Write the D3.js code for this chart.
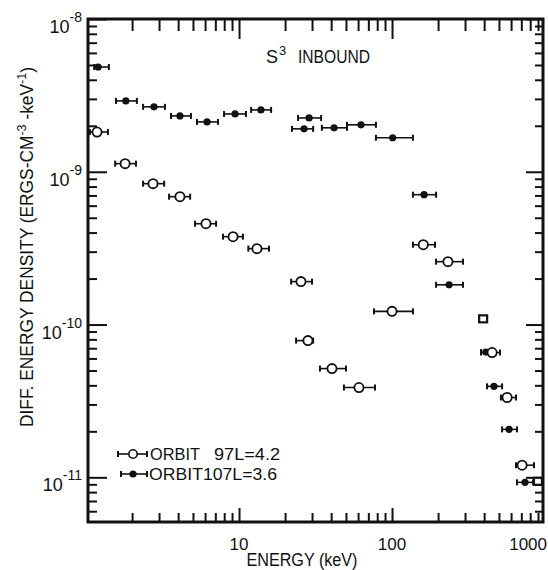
<!DOCTYPE html>
<html><head><meta charset="utf-8">
<script src="https://cdn.jsdelivr.net/npm/d3@7"></script>
<style>body{margin:0;background:#fff}svg{display:block}text{font-family:"Liberation Sans",Arial,sans-serif;fill:#111}</style>
</head><body><svg id="c" width="548" height="570"></svg>
<script>
// ---- data ----
// ORBIT 107, L=3.6 (filled)
const orbit107Energy = [1.20, 1.82, 2.78, 4.11, 6.18, 9.42, 13.9, 28.7, 26.6, 41.8, 62.7, 101, 162, 236, 411, 464, 582, 740];
const orbit107Value  = [4.85e-9, 2.91e-9, 2.66e-9, 2.32e-9, 2.12e-9, 2.39e-9, 2.54e-9, 2.25e-9, 1.91e-9, 1.94e-9, 2.03e-9, 1.67e-9, 7.08e-10, 1.82e-10, 6.6e-11, 3.94e-11, 2.06e-11, 9.27e-12];
const orbit107Low    = [1.13, 1.57, 2.36, 3.59, 5.31, 7.98, 12.0, 24.3, 22.2, 34.8, 50.8, 78.5, 137, 194, 382, 418, 524, 656];
const orbit107High   = [1.41, 2.15, 3.28, 4.85, 7.29, 11.1, 16.2, 34.4, 30.5, 50.8, 78.5, 137, 194, 291, 440, 524, 656, 836];
// ORBIT 97, L=4.2 (open)
const orbit97Energy = [1.18, 1.80, 2.74, 4.11, 6.08, 9.14, 13.1, 25.4, 28.2, 40.5, 60.8, 100, 160, 232, 451, 565, 708];
const orbit97Value  = [1.82e-9, 1.13e-9, 8.36e-10, 6.87e-10, 4.57e-10, 3.76e-10, 3.14e-10, 1.91e-10, 7.85e-11, 5.15e-11, 3.87e-11, 1.22e-10, 3.33e-10, 2.58e-10, 6.56e-11, 3.33e-11, 1.20e-11];
const orbit97Low    = [1.06, 1.55, 2.36, 3.49, 5.16, 7.86, 11.5, 21.9, 23.6, 33.8, 48.5, 76.2, 137, 194, 382, 515, 646];
const orbit97High   = [1.39, 2.12, 3.24, 4.79, 7.08, 10.6, 15.7, 30.0, 30.5, 50.0, 77.4, 137, 191, 291, 508, 646, 847];
// open squares (no bars)
const squareEnergy = [394, 899];
const squareValue  = [1.09e-10, 9.42e-12];
// tick labels
const xTickValues = [10, 100, 1000];
const xTickLabels = ["10", "100", "1000"];
const yTickValues = [1e-8, 1e-9, 1e-10, 1e-11];
const yTickExponents = ["-8", "-9", "-10", "-11"];
const titleMain = "S", titleSup = "3", titleRest = "INBOUND";
const legendLabels = [["ORBIT", "97L=4.2"], ["ORBIT107L=3.6"]];

// ---- layout ----
const L = 88, R = 543, T = 19, B = 522;
const svg = d3.select('#c');
const x = d3.scaleLog().domain([1.03, 970]).range([L, R]);
const y = d3.scaleLog().domain([5.1e-12, 1e-8]).range([B, T]);

const isMajor = v => Math.abs(Math.log10(v) - Math.round(Math.log10(v))) < 1e-6;
const xt = x.ticks(), yt = y.ticks();
const xMaj = xt.filter(isMajor), xMin = xt.filter(v => !isMajor(v));
const yMaj = yt.filter(isMajor), yMin = yt.filter(v => !isMajor(v));

function ticks(axisFn, scale, vals, size, tr) {
  svg.append('g').attr('transform', tr)
    .call(axisFn(scale).tickValues(vals).tickSize(size).tickFormat(''))
    .call(g => g.select('.domain').remove())
    .call(g => g.selectAll('line').attr('stroke', '#111').attr('stroke-width', 2));
}
ticks(d3.axisLeft, y, yMin, -9, `translate(${L},0)`);
ticks(d3.axisLeft, y, yMaj, -19, `translate(${L},0)`);
ticks(d3.axisRight, y, yMin, -8, `translate(${R},0)`);
ticks(d3.axisRight, y, yMaj, -17, `translate(${R},0)`);
ticks(d3.axisBottom, x, xMin, -9, `translate(0,${B})`);
ticks(d3.axisBottom, x, xMaj, -14, `translate(0,${B})`);
ticks(d3.axisTop, x, xMin, -12, `translate(0,${T})`);
ticks(d3.axisTop, x, xMaj, -20, `translate(0,${T})`);

svg.append('rect').attr('x', L).attr('y', T).attr('width', R - L).attr('height', B - T)
  .attr('fill', 'none').attr('stroke', '#111').attr('stroke-width', 3);

// y tick labels
yTickValues.forEach((v, i) => {
  const t = svg.append('text').attr('x', 82).attr('y', y(v) + 14).attr('text-anchor', 'end').attr('font-size', 18);
  t.append('tspan').text('10');
  t.append('tspan').attr('dy', -11).attr('font-size', 14).text(yTickExponents[i]);
});
// x tick labels
xTickValues.forEach((v, i) => {
  const last = i === xTickValues.length - 1;
  svg.append('text').attr('x', last ? x(v) + 2 : x(v)).attr('y', 550)
    .attr('text-anchor', last ? 'end' : 'middle').attr('font-size', 17).text(xTickLabels[i]);
});

// axis titles
svg.append('text').attr('x', 302).attr('y', 566).attr('text-anchor', 'middle').attr('font-size', 18)
  .attr('textLength', 111).attr('lengthAdjust', 'spacingAndGlyphs').text('ENERGY (keV)');
const yl = svg.append('text').attr('transform', 'translate(33,247) rotate(-90)').attr('text-anchor', 'middle')
  .attr('font-size', 18).attr('textLength', 360).attr('lengthAdjust', 'spacingAndGlyphs');
yl.append('tspan').text('DIFF. ENERGY DENSITY (ERGS-CM');
yl.append('tspan').attr('dy', -7).attr('font-size', 13).text('-3');
yl.append('tspan').attr('dy', 7).text(' -keV');
yl.append('tspan').attr('dy', -7).attr('font-size', 13).text('-1');
yl.append('tspan').attr('dy', 7).text(')');

// title
svg.append('text').attr('x', 266).attr('y', 63).attr('font-size', 18).text(titleMain);
svg.append('text').attr('x', 279).attr('y', 55).attr('font-size', 13).text(titleSup);
svg.append('text').attr('x', 298).attr('y', 63).attr('font-size', 18)
  .attr('textLength', 72).attr('lengthAdjust', 'spacingAndGlyphs').text(titleRest);

// data marks
function series(E, V, lo, hi, filled) {
  const d = E.map((e, i) => ({e, v: V[i], lo: lo[i], hi: hi[i]}));
  const g = svg.append('g');
  g.selectAll('line.bar').data(d).join('line').attr('class', 'bar')
    .attr('x1', p => x(p.lo)).attr('x2', p => x(p.hi)).attr('y1', p => y(p.v)).attr('y2', p => y(p.v))
    .attr('stroke', '#111').attr('stroke-width', 1.6);
  g.selectAll('line.capl').data(d).join('line').attr('class', 'capl')
    .attr('x1', p => x(p.lo)).attr('x2', p => x(p.lo)).attr('y1', p => y(p.v) - 3).attr('y2', p => y(p.v) + 3)
    .attr('stroke', '#111').attr('stroke-width', 2);
  g.selectAll('line.caph').data(d).join('line').attr('class', 'caph')
    .attr('x1', p => x(p.hi)).attr('x2', p => x(p.hi)).attr('y1', p => y(p.v) - 3).attr('y2', p => y(p.v) + 3)
    .attr('stroke', '#111').attr('stroke-width', 2);
  g.selectAll('circle').data(d).join('circle')
    .attr('cx', p => x(p.e)).attr('cy', p => y(p.v))
    .attr('r', filled ? 3.6 : 4.6)
    .attr('fill', filled ? '#111' : '#fff').attr('stroke', '#111').attr('stroke-width', filled ? 0 : 1.8);
}
series(orbit107Energy, orbit107Value, orbit107Low, orbit107High, true);
series(orbit97Energy, orbit97Value, orbit97Low, orbit97High, false);

svg.append('g').selectAll('rect').data(squareEnergy.map((e, i) => ({e, v: squareValue[i]}))).join('rect')
  .attr('x', p => x(p.e) - 4).attr('y', p => y(p.v) - 3.5).attr('width', 8).attr('height', 7)
  .attr('fill', '#fff').attr('stroke', '#111').attr('stroke-width', 2.2);

// legend
const leg = svg.append('g');
[[454, false], [474, true]].forEach(([ly, filled], i) => {
  const x0 = filled ? 121 : 118, x1 = 147;
  leg.append('line').attr('x1', x0).attr('x2', x1).attr('y1', ly).attr('y2', ly).attr('stroke', '#111').attr('stroke-width', 1.6);
  [x0, x1].forEach(cx => leg.append('line').attr('x1', cx).attr('x2', cx).attr('y1', ly - 3).attr('y2', ly + 3).attr('stroke', '#111').attr('stroke-width', 2));
  leg.append('circle').attr('cx', 133).attr('cy', ly).attr('r', filled ? 3.6 : 4.2)
    .attr('fill', filled ? '#111' : '#fff').attr('stroke', '#111').attr('stroke-width', filled ? 0 : 1.6);
});
leg.append('text').attr('x', 150).attr('y', 460).attr('font-size', 16).attr('textLength', 50).attr('lengthAdjust', 'spacingAndGlyphs').text(legendLabels[0][0]);
leg.append('text').attr('x', 214).attr('y', 460).attr('font-size', 16).attr('textLength', 66).attr('lengthAdjust', 'spacingAndGlyphs').text(legendLabels[0][1]);
leg.append('text').attr('x', 149).attr('y', 480).attr('font-size', 16).attr('textLength', 128).attr('lengthAdjust', 'spacingAndGlyphs').text(legendLabels[1][0]);
</script>
</body></html>
